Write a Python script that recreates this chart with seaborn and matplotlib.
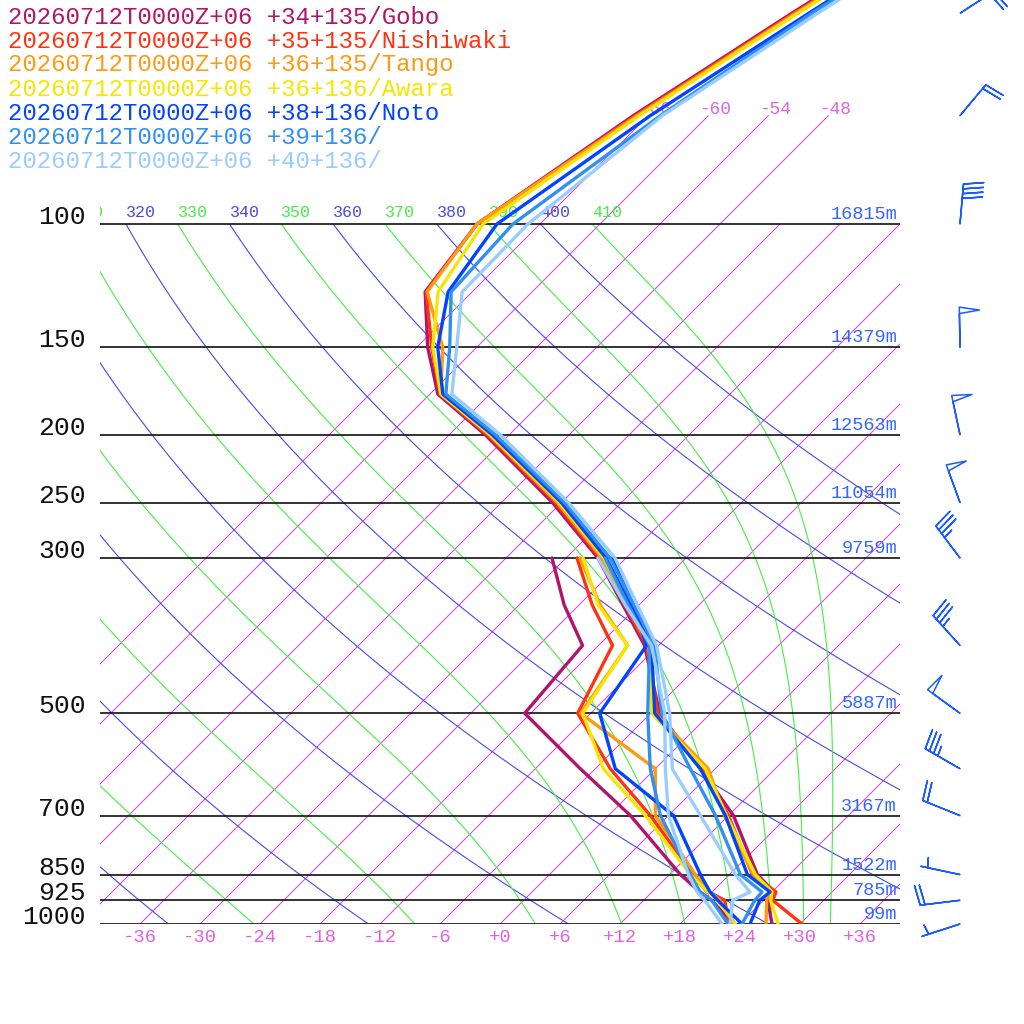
import numpy as np
import matplotlib
matplotlib.use("Agg")
import matplotlib.pyplot as plt
import seaborn as sns

# ── Data ──────────────────────────────────────────────────────────────────────
STATIONS = [
    "20260712T0000Z+06 +34+135/Gobo",
    "20260712T0000Z+06 +35+135/Nishiwaki",
    "20260712T0000Z+06 +36+135/Tango",
    "20260712T0000Z+06 +36+136/Awara",
    "20260712T0000Z+06 +38+136/Noto",
    "20260712T0000Z+06 +39+136/",
    "20260712T0000Z+06 +40+136/",
]
COLORS = ["#b0146c", "#ff3311", "#ff9911", "#f5e600", "#0044ff", "#3090f0", "#99ccff"]

T_LEVELS = [1000, 925, 900, 850, 700, 600, 500, 400, 300, 250, 200, 175, 150, 125, 100, 70, 50, 30]
TD_LEVELS = [1000, 925, 900, 850, 700, 600, 500, 400, 350, 300]

temp_gobo  = [27.2, 24.4, 24.2, 20.8, 12.5, 4.5, -5.1, -13.4, -26.8, -36.9, -50.4, -59.2, -64.9, -70.7, -72.3, -67.5, -61.9, -52.6]
temp_nishi = [30.2, 24.9, 24.4, 20.3, 12.0, 4.8, -5.3, -13.2, -26.6, -36.6, -50.2, -59.0, -64.5, -70.6, -72.3, -67.3, -61.7, -52.3]
temp_tango = [26.6, 24.3, 23.8, 20.4, 11.6, 5.3, -5.6, -13.0, -26.4, -36.4, -50.0, -58.9, -63.4, -70.5, -72.3, -67.1, -61.5, -52.1]
temp_awara = [27.8, 24.7, 24.0, 20.6, 11.8, 5.0, -5.9, -12.9, -26.2, -36.2, -49.9, -58.9, -64.4, -69.4, -71.7, -66.9, -61.3, -51.9]
temp_noto  = [25.0, 23.6, 23.8, 19.8, 11.7, 4.5, -5.6, -12.7, -26.0, -36.0, -49.7, -58.7, -63.9, -68.4, -70.3, -65.8, -60.2, -51.4]
temp_p39   = [24.2, 23.1, 23.0, 19.1, 10.7, 3.5, -4.9, -12.4, -25.6, -35.7, -49.4, -58.4, -62.7, -68.1, -68.7, -64.8, -59.9, -51.1]
temp_p40   = [23.0, 20.9, 21.8, 18.6, 9.2, 1.7, -4.1, -12.2, -25.1, -35.3, -48.9, -57.8, -62.0, -67.0, -67.2, -64.6, -59.3, -50.6]

dewp_gobo  = [23.3, 18.8, 16.8, 13.1, 2.2, -7.5, -18.6, -19.6, -25.5, -31.4]
dewp_nishi = [22.9, 20.1, 17.5, 14.4, 4.2, -4.5, -13.3, -16.6, -22.7, -28.9]
dewp_tango = [23.5, 19.6, 17.8, 14.6, 4.7, 0.0, -13.0, -15.1, -21.9, -28.6]
dewp_awara = [23.5, 19.4, 17.6, 14.1, 3.7, -5.2, -12.8, -15.1, -22.1, -28.3]
dewp_noto  = [24.2, 19.4, 17.8, 15.1, 6.5, -4.0, -11.1, -13.2, -18.6, -25.4]
dewp_p39   = [22.8, 18.8, 16.8, 14.1, 5.2, -0.5, -6.3, -12.9, -19.1, -26.1]
dewp_p40   = [22.2, 18.1, 16.5, 13.9, 6.0, 1.0, -4.6, -12.7, -19.4, -26.8]

TEMPS = [temp_gobo, temp_nishi, temp_tango, temp_awara, temp_noto, temp_p39, temp_p40]
DEWPS = [dewp_gobo, dewp_nishi, dewp_tango, dewp_awara, dewp_noto, dewp_p39, dewp_p40]

ISOBARS = [1000, 925, 850, 700, 500, 300, 250, 200, 150, 100]
HEIGHTS = ["99m", "785m", "1522m", "3167m", "5887m", "9759m", "11054m", "12563m", "14379m", "16815m"]

WIND_LEVELS = [1000, 925, 850, 700, 600, 500, 400, 300, 250, 200, 150, 100, 70, 50]
WIND_DIR    = [252, 263, 282, 292, 300, 306, 318, 323, 340, 348, 359, 5, 40, 57]
WIND_KT     = [5, 20, 5, 20, 35, 50, 35, 35, 50, 50, 50, 40, 20, 20]

ISOTHERMS = list(range(-66, 37, 6))
DRY_THETA = list(range(240, 401, 20))
MOIST_THETA = list(range(230, 411, 20))
THETA_LABELS = list(range(310, 411, 10))
TICK_TEMPS = list(range(-36, 37, 6))

# ── Style ─────────────────────────────────────────────────────────────────────
sns.set_style("white")
plt.rcParams["font.family"] = ["Liberation Mono", "DejaVu Sans Mono"]

ISO_COLOR   = "#d83ad8"
DRY_COLOR   = "#4848f0"
MOIST_COLOR = "#44ee44"
TICK_COLOR  = "#e060e0"
HGT_COLOR   = "#3366ff"
BARB_COLOR  = "#1a5cff"

W = 1024
SKEW = 30.4                      # 45 degree skew: 304 px per ln(p), 10 px per degree
P_TOP = 1000 * np.exp(-924 / 304)
KAPPA = 0.2857


def skew_x(t, p):
    return np.asarray(t, float) + SKEW * np.log(1000.0 / np.asarray(p, float))


def p_at(ypix):
    return 1000 * np.exp(-(924 - ypix) / 304)


def moist_adiabat(theta, p):
    """Pseudo-adiabat through theta's dry value at 100 hPa, integrated down."""
    Rd, cp, Lv, eps = 287.04, 1005.7, 2.501e6, 0.622

    def dT_dlnp(T, pp):
        es = 6.112 * np.exp(17.67 * (T - 273.15) / (T - 29.65))
        rs = eps * es / (pp - es)
        return (Rd * T + Lv * rs) / (cp + Lv ** 2 * rs * eps / (Rd * T ** 2))

    lnp = np.log(p)
    T = theta * (p[0] / 1000.0) ** KAPPA
    out = [T]
    for i in range(len(p) - 1):
        h = lnp[i + 1] - lnp[i]
        p0, p1 = p[i], p[i + 1]
        pm = np.exp(lnp[i] + h / 2)
        k1 = dT_dlnp(T, p0)
        k2 = dT_dlnp(T + h / 2 * k1, pm)
        k3 = dT_dlnp(T + h / 2 * k2, pm)
        k4 = dT_dlnp(T + h * k3, p1)
        T = T + h / 6 * (k1 + 2 * k2 + 2 * k3 + k4)
        out.append(T)
    return np.array(out) - 273.15


fig = plt.figure(figsize=(10.24, 10.24), dpi=100)
ax = fig.add_axes([100 / W, 100 / W, 800 / W, 924 / W])
ax.set_yscale("log")
ax.set_xlim(-40, 40)
ax.set_ylim(1000, P_TOP)
ax.axis("off")

# ── Background lines ──────────────────────────────────────────────────────────
for t in ISOTHERMS:
    ptop = 70 if t <= -48 else 100
    pp = np.array([1000, ptop])
    ax.plot(skew_x([t, t], pp), pp, color=ISO_COLOR, lw=0.7, zorder=1)
    if t <= -48:
        ax.text(skew_x(t, 70) + 0.7, p_at(110), f"{t:+d}", color=TICK_COLOR,
                fontsize=12.8, ha="center", va="center", zorder=2)

pp = np.geomspace(1000, 100, 120)
for th in DRY_THETA:
    ax.plot(skew_x(th * (pp / 1000) ** KAPPA - 273.15, pp), pp,
            color=DRY_COLOR, lw=0.8, zorder=1)

pm = np.geomspace(100, 1000, 240)
for th in MOIST_THETA:
    ax.plot(skew_x(moist_adiabat(th, pm), pm), pm, color=MOIST_COLOR, lw=0.8, zorder=1)

for th in THETA_LABELS:
    x0 = skew_x(th * 0.1 ** KAPPA - 273.15, 100)
    ax.text(x0, p_at(220), str(th), color=DRY_COLOR if th % 20 == 0 else MOIST_COLOR,
            fontsize=12, ha="left", va="bottom", clip_on=True, zorder=2)

for p, h in zip(ISOBARS, HEIGHTS):
    ax.plot([-40, 40], [p, p], color="#111111", lw=1.2, zorder=3)
    ax.text(-41.4, p, str(p), color="#111111", fontsize=19, ha="right",
            va="baseline", clip_on=False)
    ax.text(39.7, p_at(924 - 304 * np.log(1000 / p) - 1), h, color=HGT_COLOR,
            fontsize=13.4, ha="right", va="bottom", zorder=6)

for t in TICK_TEMPS:
    ax.text(t, p_at(929), f"{t:+d}", color=TICK_COLOR, fontsize=13.6,
            ha="center", va="top", clip_on=False)

# ── Profiles ──────────────────────────────────────────────────────────────────
for i, (color, t, td) in enumerate(zip(COLORS, TEMPS, DEWPS)):
    sns.lineplot(x=skew_x(td, TD_LEVELS), y=TD_LEVELS, sort=False, estimator=None,
                 color=color, lw=2.4, ax=ax, zorder=10 + i)
    sns.lineplot(x=skew_x(t, T_LEVELS), y=T_LEVELS, sort=False, estimator=None,
                 color=color, lw=2.4, ax=ax, zorder=10 + i)
ax.set_xlim(-40, 40)
ax.set_ylim(1000, P_TOP)

# ── Legend text ───────────────────────────────────────────────────────────────
for i, (name, color) in enumerate(zip(STATIONS, COLORS)):
    fig.text(8 / W, 1 - (17 + 24 * i) / W, name, color=color, fontsize=17.3,
             ha="left", va="center")

# ── Wind barbs ────────────────────────────────────────────────────────────────
bx = fig.add_axes([900 / W, 100 / W, 124 / W, 924 / W])
bx.set_yscale("log")
bx.set_xlim(900, 1024)
bx.set_ylim(1000, P_TOP)
bx.axis("off")
rad = np.deg2rad(WIND_DIR)
spd = np.array(WIND_KT, float)
u = -spd * np.sin(rad)
v = -spd * np.cos(rad)
bx.barbs(np.full(len(WIND_LEVELS), 960.0), WIND_LEVELS, u, v, length=7.6,
         sizes=dict(spacing=0.12, height=0.5, width=0.16),
         barbcolor=BARB_COLOR, flagcolor="none", linewidth=1.1, clip_on=False)

fig.savefig("out.png", dpi=100)
